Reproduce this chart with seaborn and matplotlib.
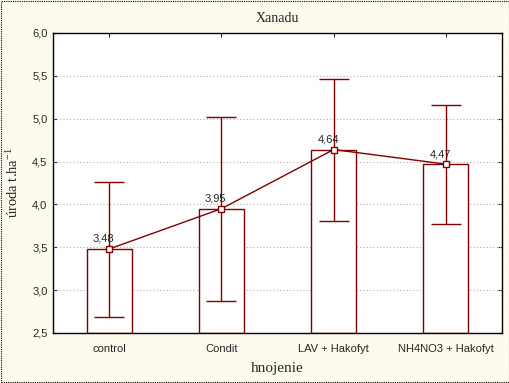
import numpy as np
import pandas as pd
import matplotlib
matplotlib.use("Agg")
import matplotlib.pyplot as plt
import seaborn as sns
from matplotlib.patches import Rectangle

categories = ["control", "Condit", "LAV + Hakofyt", "NH4NO3 + Hakofyt"]
means = [3.48, 3.95, 4.64, 4.47]
ci_low = [2.69, 2.87, 3.81, 3.77]
ci_high = [4.26, 5.02, 5.46, 5.16]
y_ticks = [2.5, 3.0, 3.5, 4.0, 4.5, 5.0, 5.5, 6.0]

red = "#800000"
cream = "#FFFAEE"

sns.set_style("white")
plt.rcParams["mathtext.fontset"] = "custom"
plt.rcParams["mathtext.rm"] = "Liberation Serif"
plt.rcParams["mathtext.it"] = "Liberation Serif:italic"

df = pd.DataFrame({"hnojenie": categories, "uroda": means})

fig = plt.figure(figsize=(5.1, 3.83), dpi=100, facecolor=cream)
ax = fig.add_axes([53 / 510, 1 - 333 / 383, 449 / 510, 300 / 383])
ax.set_facecolor("white")

sns.barplot(data=df, x="hnojenie", y="uroda", errorbar=None, width=0.4,
            color="white", edgecolor=red, linewidth=1.0, ax=ax, zorder=2)
for p in ax.patches:
    h = p.get_height()
    p.set_y(2.5)
    p.set_height(h - 2.5)

x = np.arange(len(categories))
means_a = np.array(means)
yerr = [means_a - np.array(ci_low), np.array(ci_high) - means_a]
ax.errorbar(x, means, yerr=yerr, fmt="none", ecolor=red, elinewidth=1.0,
            capsize=11, capthick=1.0, zorder=3)
ax.plot(x, means, color=red, lw=1.0, marker="s", markersize=5,
        markerfacecolor="white", markeredgecolor=red, markeredgewidth=1.0, zorder=4)
for xi, m in zip(x, means):
    ax.text(xi - 0.05, m + 0.06, f"{m:.2f}".replace(".", ","), ha="center",
            va="bottom", fontsize=8, family="Liberation Sans", zorder=5)

ax.set_ylim(2.5, 6.0)
ax.set_xlim(-0.5, 3.5)
ax.set_yticks(y_ticks)
ax.set_yticklabels([f"{v:.1f}".replace(".", ",") for v in y_ticks],
                   family="Liberation Sans", fontsize=8)
ax.set_xticks(x)
ax.set_xticklabels(categories, family="Liberation Sans", fontsize=8)
ax.tick_params(axis="y", which="both", left=True, right=True, direction="in",
               length=3, width=0.8, pad=4)
ax.tick_params(axis="x", which="both", bottom=True, top=True, direction="in",
               length=3, width=0.8, pad=8)
for yv in y_ticks[1:-1]:
    ax.axhline(yv, color="#b0b0b0", ls=(0, (1, 2)), lw=0.8, zorder=1)
for s in ax.spines.values():
    s.set_color("black")
    s.set_linewidth(1.0)

ax.set_title("Xanadu", family="Liberation Serif", fontsize=10, pad=8)
ax.set_xlabel("hnojenie", family="Liberation Serif", fontsize=11, labelpad=6)
ax.set_ylabel(r"úroda t.ha$^{\mathregular{-1}}$", family="Liberation Serif",
              fontsize=10.5, labelpad=8)

fig.patches.append(Rectangle((0.002, 0.003), 0.996, 0.994, transform=fig.transFigure,
                             fill=False, edgecolor="black", ls=(0, (1, 1)), lw=0.8))

fig.savefig("out.png", dpi=100, facecolor=cream)
